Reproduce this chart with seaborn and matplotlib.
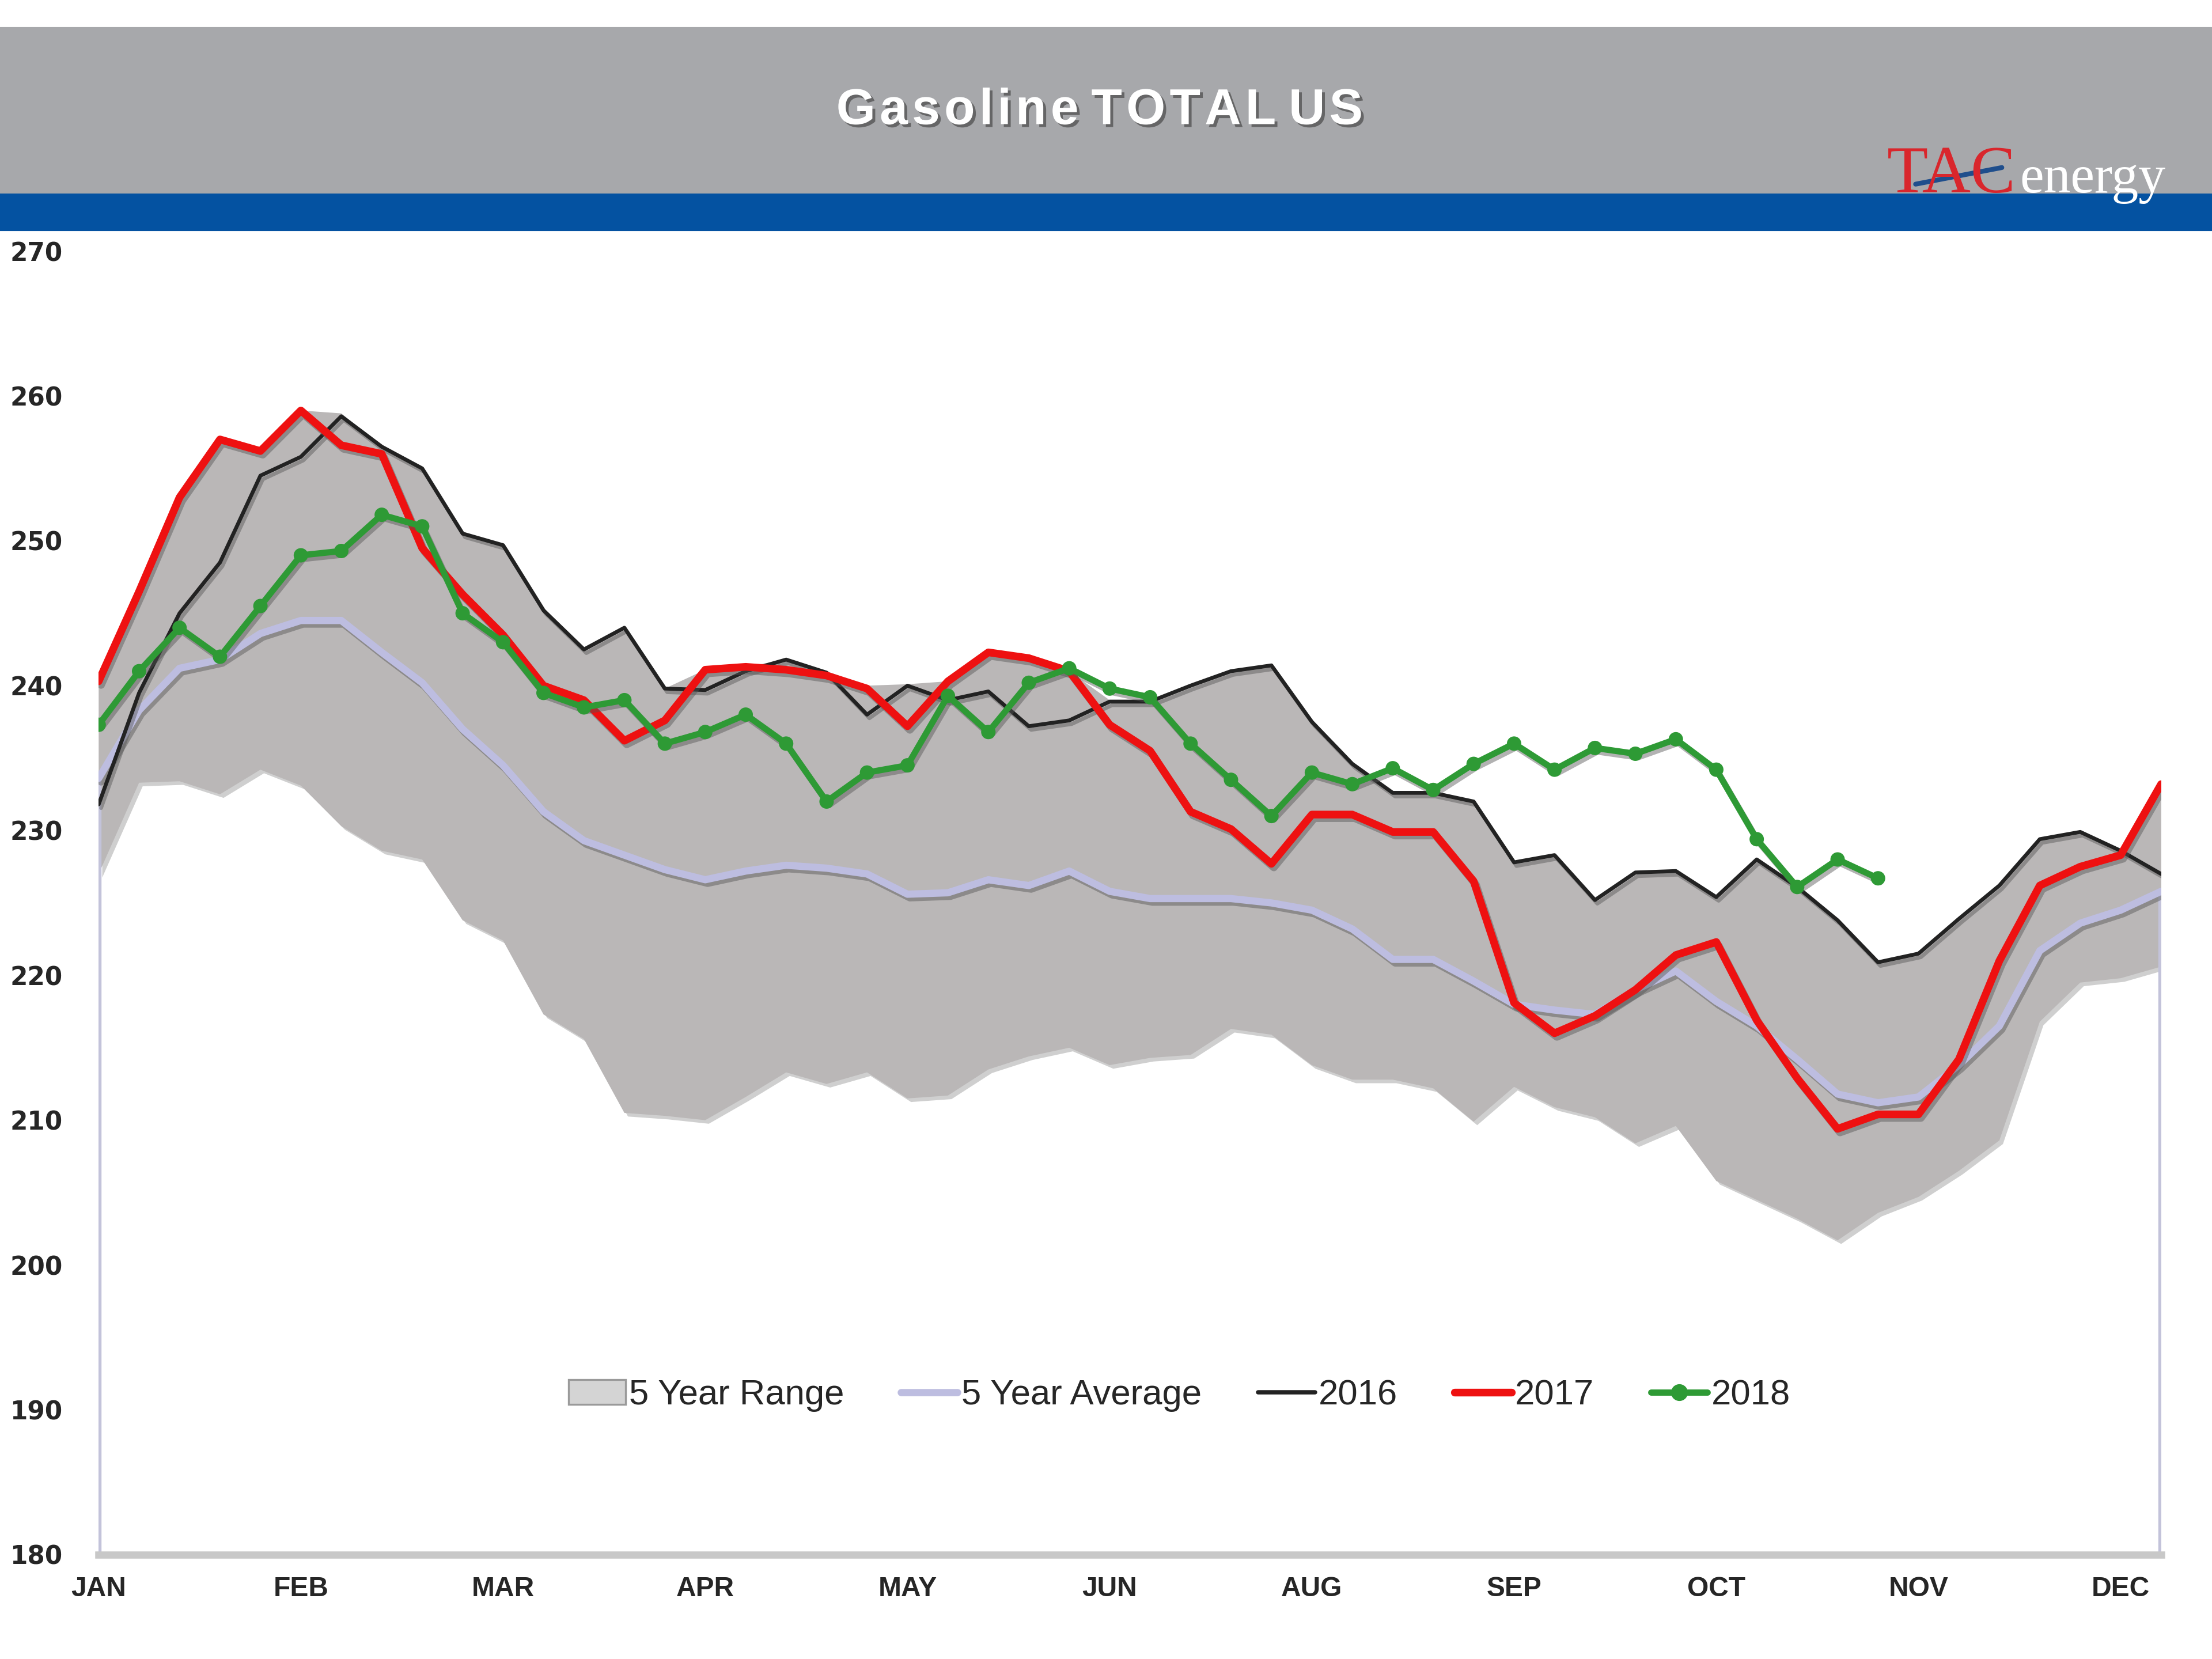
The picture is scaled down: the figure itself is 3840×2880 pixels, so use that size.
import numpy as np
import pandas as pd
import matplotlib
matplotlib.use("Agg")
import matplotlib.pyplot as plt
import matplotlib.patheffects as pe
from matplotlib.patches import Rectangle, Patch
from matplotlib.lines import Line2D
import seaborn as sns

# weekly inventory levels (million bbl), week 0 = first week of January
weeks = list(range(52))

range_low = [227.0, 233.3, 233.4, 232.5, 234.2, 233.1, 230.3, 228.6, 228.0, 223.8,
             222.4, 217.3, 215.6, 210.5, 210.3, 210.0, 211.6, 213.3, 212.5, 213.3,
             211.5, 211.7, 213.5, 214.4, 215.0, 213.8, 214.3, 214.5, 216.3, 215.9,
             213.8, 212.8, 212.8, 212.2, 209.9, 212.3, 210.9, 210.2, 208.4, 209.6,
             205.8, 204.5, 203.2, 201.7, 203.6, 204.7, 206.5, 208.6, 216.8, 219.5,
             219.8, 220.6]
range_high = [240.3, 246.5, 253.0, 257.0, 256.2, 259.0, 258.8, 256.5, 255.0, 250.5,
              249.7, 245.2, 242.5, 244.0, 239.8, 241.1, 241.3, 241.8, 241.0, 240.0,
              240.1, 240.3, 242.3, 241.9, 241.0, 239.0, 239.0, 240.0, 241.0, 241.4,
              237.5, 234.6, 232.6, 232.6, 232.0, 227.8, 228.3, 225.2, 227.1, 227.2,
              225.4, 228.0, 226.1, 223.8, 220.9, 221.5, 223.9, 226.2, 229.4, 229.9,
              228.6, 233.2]
avg_5yr = [233.6, 238.3, 241.2, 241.8, 243.6, 244.5, 244.5, 242.3, 240.2, 237.0,
           234.5, 231.3, 229.3, 228.3, 227.3, 226.6, 227.2, 227.6, 227.4, 227.0,
           225.6, 225.7, 226.6, 226.2, 227.2, 225.8, 225.3, 225.3, 225.3, 225.0,
           224.5, 223.2, 221.1, 221.1, 219.6, 218.0, 217.6, 217.3, 219.0, 220.3,
           218.2, 216.5, 214.2, 211.8, 211.2, 211.6, 213.8, 216.5, 221.7, 223.6,
           224.5, 225.8]
y2016 = [231.8, 239.5, 245.0, 248.5, 254.5, 255.8, 258.6, 256.5, 255.0, 250.5,
         249.7, 245.2, 242.5, 244.0, 239.8, 239.7, 241.0, 241.8, 240.9, 238.0,
         240.0, 239.0, 239.6, 237.2, 237.6, 238.9, 238.9, 240.0, 241.0, 241.4,
         237.5, 234.6, 232.6, 232.6, 232.0, 227.8, 228.3, 225.2, 227.1, 227.2,
         225.4, 228.0, 226.1, 223.8, 220.9, 221.5, 223.9, 226.2, 229.4, 229.9,
         228.6, 227.0]
y2017 = [240.3, 246.5, 253.0, 257.0, 256.2, 259.0, 256.6, 256.0, 249.5, 246.3,
         243.5, 240.0, 239.0, 236.2, 237.6, 241.1, 241.3, 241.1, 240.7, 239.8,
         237.2, 240.3, 242.3, 241.9, 241.0, 237.3, 235.5, 231.3, 230.1, 227.7,
         231.1, 231.1, 229.9, 229.9, 226.5, 218.1, 216.0, 217.2, 219.0, 221.4,
         222.3, 216.9, 212.9, 209.4, 210.4, 210.4, 214.2, 221.0, 226.2, 227.5,
         228.3, 233.2]
y2018 = [237.3, 241.0, 244.0, 242.0, 245.5, 249.0, 249.3, 251.8, 251.0, 245.0,
         243.0, 239.5, 238.5, 239.0, 236.0, 236.8, 238.0, 236.0, 232.0, 234.0,
         234.5, 239.3, 236.8, 240.2, 241.2, 239.8, 239.2, 236.0, 233.5, 231.0,
         234.0, 233.2, 234.3, 232.8, 234.6, 236.0, 234.2, 235.7, 235.3, 236.3,
         234.2, 229.4, 226.1, 228.0, 226.7]

month_pos = [0, 5, 10, 15, 20, 25, 30, 35, 40, 45, 50]
month_labels = ["JAN", "FEB", "MAR", "APR", "MAY", "JUN", "AUG", "SEP", "OCT", "NOV", "DEC"]
y_ticks = [180, 190, 200, 210, 220, 230, 240, 250, 260, 270]

sns.set_style("white")
plt.rcParams["font.family"] = ["Liberation Sans", "DejaVu Sans"]

fig = plt.figure(figsize=(12.8, 9.6), dpi=300)

# header bands
fig.patches.append(Rectangle((0, 0.8827), 1, 0.1003, transform=fig.transFigure,
                             color="#a7a8ab", zorder=0))
fig.patches.append(Rectangle((0, 0.8614), 1, 0.0213, transform=fig.transFigure,
                             color="#0452a1", zorder=0))
fig.text(0.497, 0.933, "G a s o l i n e   T O T A L   U S".replace(" ", "\u200a"),
         ha="center", va="center", fontsize=21, fontweight="bold", color="white",
         path_effects=[pe.withSimplePatchShadow(offset=(1.2, -1.2), shadow_rgbFace="#555555", alpha=0.8)])
fig.text(0.853, 0.884, "TAC", ha="left", va="baseline", fontsize=28,
         family="Liberation Serif", color="#d9262c")
fig.text(0.913, 0.884, "energy", ha="left", va="baseline", fontsize=22.5,
         family="Liberation Serif", color="white")
fig.add_artist(Line2D([0.866, 0.905], [0.889, 0.899], transform=fig.transFigure,
                      color="#1f4e8c", lw=2))

ax = fig.add_axes([0.0446, 0.0629, 0.9324, 0.7857])

ax.fill_between(weeks, range_low, range_high, color="#bab7b7", lw=0, zorder=1,
                path_effects=[pe.withSimplePatchShadow(offset=(1.5, -1.5), shadow_rgbFace="#777777", alpha=0.35)])

df = pd.DataFrame({"week": weeks, "avg": avg_5yr, "y2016": y2016, "y2017": y2017})
df18 = pd.DataFrame({"week": weeks[:len(y2018)], "y2018": y2018})

shadow = [pe.SimpleLineShadow(offset=(1, -1.5), shadow_color="#555555", alpha=0.45), pe.Normal()]
# edge drops of the average series down to the axis floor
ax.vlines([weeks[0], weeks[-1]], 180, [avg_5yr[0], avg_5yr[-1]], color="#c3c3da",
          lw=2.5, zorder=2)
sns.lineplot(data=df, x="week", y="avg", ax=ax, color="#bdbde0", lw=3, zorder=2,
             path_effects=shadow)
sns.lineplot(data=df, x="week", y="y2016", ax=ax, color="#222222", lw=1.6, zorder=3,
             path_effects=shadow)
sns.lineplot(data=df, x="week", y="y2017", ax=ax, color="#ee1111", lw=3.2, zorder=4,
             path_effects=shadow)
sns.lineplot(data=df18, x="week", y="y2018", ax=ax, color="#2e9a35", lw=2.6, zorder=5,
             marker="o", markersize=6, markeredgewidth=0, path_effects=shadow)

ax.set_xlim(0, 51)
ax.set_ylim(180, 270)
ax.set_xticks(month_pos)
ax.set_xticklabels(month_labels)
ax.set_yticks(y_ticks)
ax.set_xlabel("")
ax.set_ylabel("")
ax.tick_params(axis="both", length=0, labelsize=11.5)
ax.tick_params(axis="y", pad=15)
ax.tick_params(axis="x", pad=9)
for lab in ax.get_xticklabels() + ax.get_yticklabels():
    lab.set_fontweight("bold")
for lab in ax.get_yticklabels():
    lab.set_family("DejaVu Sans")
    lab.set_fontsize(10.5)

for side in ["top", "left", "right"]:
    ax.spines[side].set_visible(False)
ax.spines["bottom"].set_color("#c8c8c8")
ax.spines["bottom"].set_linewidth(3)

handles = [
    Patch(facecolor="#d4d4d4", edgecolor="#9a9a9a", lw=0.8),
    Line2D([], [], color="#bdbde0", lw=3),
    Line2D([], [], color="#222222", lw=1.8),
    Line2D([], [], color="#ee1111", lw=3.2),
    Line2D([], [], color="#2e9a35", lw=2.6, marker="o", markersize=6),
]
labels = ["5 Year Range", "5 Year Average", "2016", "2017", "2018"]
ax.legend(handles, labels, loc="center", bbox_to_anchor=(0.524, 0.122), ncol=5,
          frameon=False, fontsize=14.8, handlelength=1.6, handletextpad=0.1,
          columnspacing=1.6)

fig.savefig("out.png", dpi=300)
